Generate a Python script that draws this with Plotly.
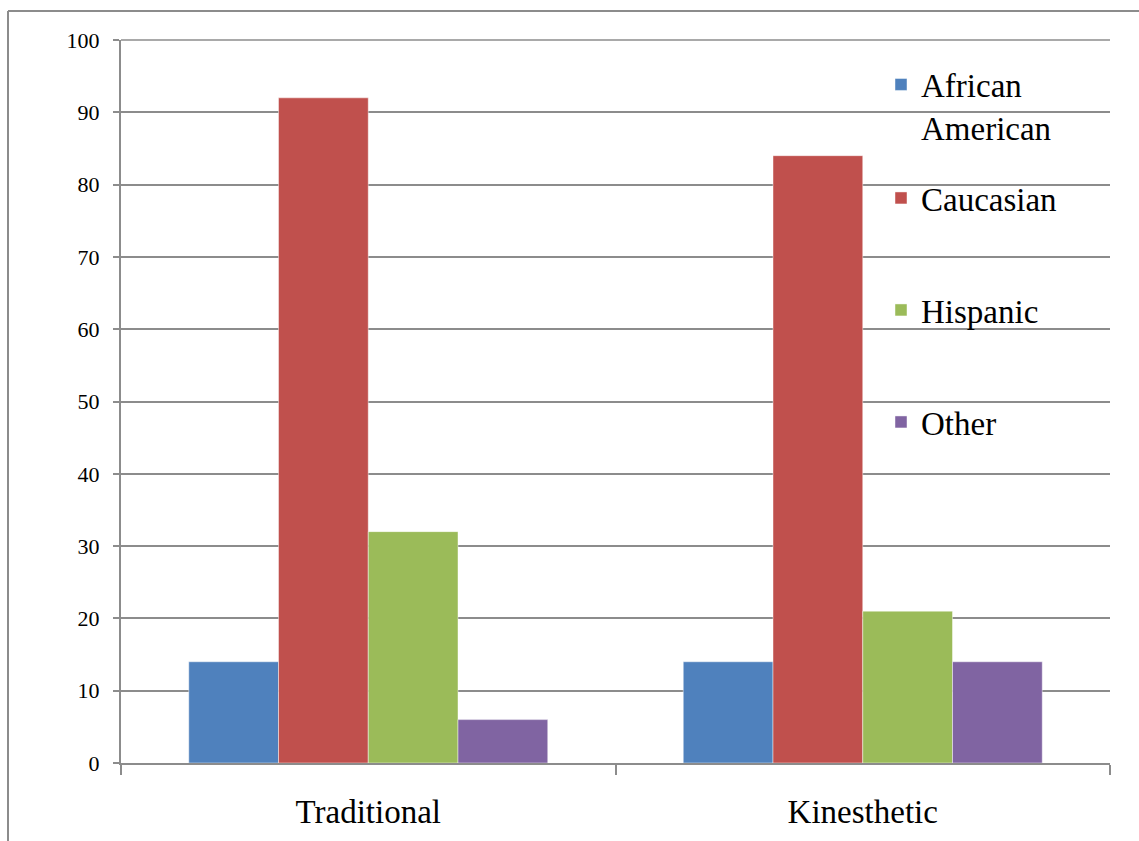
import plotly.graph_objects as go

# Data
categories = ["Traditional", "Kinesthetic"]
series_names = ["African<br>American", "Caucasian", "Hispanic", "Other"]
african_american = [14, 14]
caucasian = [92, 84]
hispanic = [32, 21]
other = [6, 14]
y_ticks = [0, 10, 20, 30, 40, 50, 60, 70, 80, 90, 100]

colors = ["#4F81BD", "#C0504D", "#9BBB59", "#8064A2"]
values = [african_american, caucasian, hispanic, other]
legend_ids = ["legend", "legend2", "legend3", "legend4"]

W, H = 1139, 841
L, R, T, B = 121, 29, 40, 78
plot_w = W - L - R
plot_h = H - T - B

FONT = "Liberation Serif"
GRID = "#8c8c8c"

fig = go.Figure()
for name, vals, col, lg in zip(series_names, values, colors, legend_ids):
    fig.add_trace(go.Bar(
        x=categories, y=vals, name=name,
        marker=dict(color=col, line=dict(color="rgba(255,255,255,0.45)", width=1)),
        legend=lg, showlegend=True,
    ))

# legend item vertical centres (pixels from top)
legend_centres = [106, 198, 310, 422]
legend_left_px = 881
legend_layout = {}
for lg, yc in zip(legend_ids, legend_centres):
    legend_layout[lg] = dict(
        x=(legend_left_px - L) / plot_w,
        y=(H - B - yc) / plot_h,
        xanchor="left", yanchor="middle",
        bgcolor="rgba(0,0,0,0)",
        font=dict(family=FONT, size=33, color="black"),
        valign="top",
        visible=True,
    )

fig.update_layout(
    width=W, height=H,
    margin=dict(l=L, r=R, t=T, b=B, pad=0, autoexpand=False),
    paper_bgcolor="white", plot_bgcolor="white",
    barmode="group", bargap=0.274, bargroupgap=0,
    font=dict(family=FONT, color="black"),
    showlegend=True,
    **legend_layout,
)

fig.update_xaxes(
    automargin=False,
    showgrid=False, showline=True, linecolor=GRID, linewidth=2,
    ticks="outside", tickson="boundaries", ticklen=10, tickcolor=GRID, tickwidth=2,
    tickfont=dict(family=FONT, size=33, color="black"),
    ticklabelstandoff=18,
)
fig.update_yaxes(
    automargin=False,
    range=[0, 100], tickvals=y_ticks,
    showgrid=True, gridcolor=GRID, gridwidth=1.5,
    zeroline=False, showline=True, linecolor=GRID, linewidth=2,
    ticks="outside", ticklen=6, tickcolor=GRID, tickwidth=2,
    tickfont=dict(family=FONT, size=22, color="black"),
    ticklabelstandoff=9,
)

# top gridline at the upper edge of the value range
fig.add_shape(type="line", xref="paper", yref="paper", layer="below",
              x0=0, x1=1, y0=1, y1=1, line=dict(color=GRID, width=1.5))

# chart frame (top and left edges)
x_left = (8 - L) / plot_w
y_top = 1 + (T - 11) / plot_h
y_bottom = -(B + 5) / plot_h
fig.add_shape(type="line", xref="paper", yref="paper",
              x0=x_left, x1=(W + 5 - L) / plot_w, y0=y_top, y1=y_top,
              line=dict(color=GRID, width=2))
fig.add_shape(type="line", xref="paper", yref="paper",
              x0=x_left, x1=x_left, y0=y_top, y1=y_bottom,
              line=dict(color=GRID, width=2))

fig.write_html("out.html")
